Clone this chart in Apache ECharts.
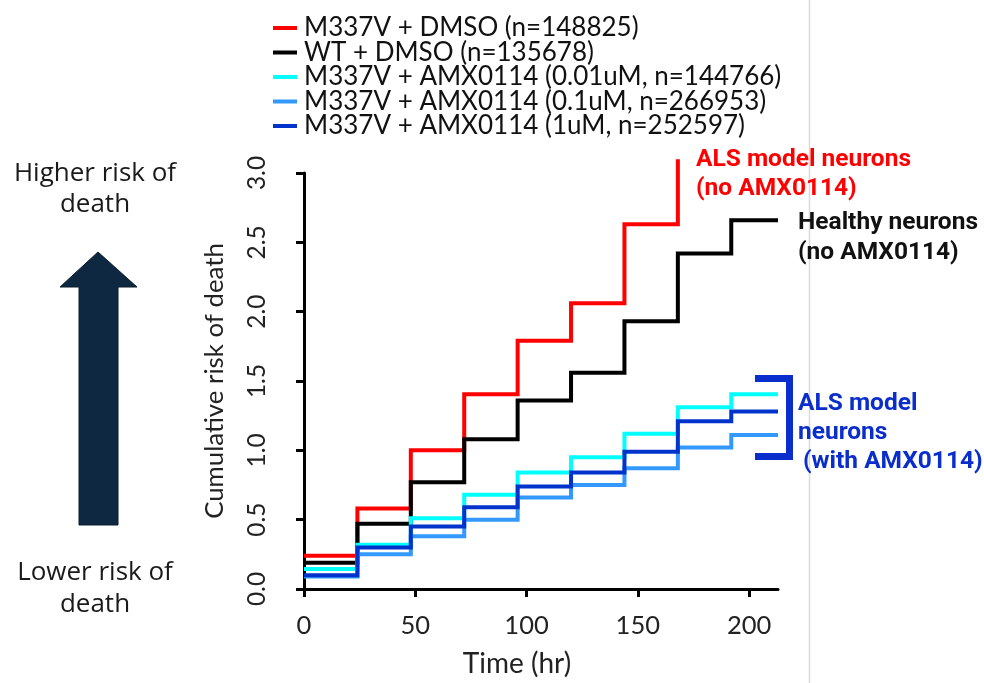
<!DOCTYPE html>
<html>
<head>
<meta charset="utf-8">
<script src="https://cdn.jsdelivr.net/npm/echarts@6/dist/echarts.min.js"></script>
<style>
html,body{margin:0;padding:0;background:#fff;}
#chart{width:984px;height:683px;}
</style>
</head>
<body>
<div id="chart"></div>
<script>
// ---- data ----
const times = [0, 24, 48, 72, 96, 120, 144, 168, 192];
const endTime = 213;
const seriesNames = [
  'M337V + DMSO (n=148825)',
  'WT + DMSO (n=135678)',
  'M337V + AMX0114 (0.01uM, n=144766)',
  'M337V + AMX0114 (0.1uM, n=266953)',
  'M337V + AMX0114 (1uM, n=252597)'
];
const redVals       = [0.24, 0.58, 1.00, 1.405, 1.79, 2.06, 2.63, 3.10];
const blackVals     = [0.19, 0.47, 0.77, 1.08, 1.36, 1.56, 1.93, 2.42, 2.66];
const cyanVals      = [0.145, 0.32, 0.51, 0.68, 0.84, 0.95, 1.12, 1.31, 1.405];
const lightBlueVals = [0.09, 0.25, 0.38, 0.50, 0.66, 0.75, 0.87, 1.02, 1.11];
const darkBlueVals  = [0.10, 0.30, 0.45, 0.59, 0.74, 0.84, 0.99, 1.21, 1.28];
const xTicks = [0, 50, 100, 150, 200];

// ---- styles ----
const colors = ['#ff0000', '#000000', '#00ffff', '#3399ff', '#0033cc'];
const allVals = [redVals, blackVals, cyanVals, lightBlueVals, darkBlueVals];
const axisFont = 'Lato';

function toPoints(vals) {
  const pts = vals.map((v, i) => [times[i], v]);
  if (vals.length === times.length) pts.push([endTime, vals[vals.length - 1]]);
  return pts;
}

const chart = echarts.init(document.getElementById('chart'), null, {renderer: 'canvas'});

const series = allVals.map((vals, i) => ({
  name: seriesNames[i],
  type: 'line',
  step: 'end',
  data: toPoints(vals),
  showSymbol: false,
  symbol: 'none',
  clip: false,
  lineStyle: {color: colors[i], width: 4, cap: 'butt', join: 'miter'},
  itemStyle: {color: colors[i]},
  z: 2 + i
}));

const annFont = 'bold 24.5px Roboto';
const sideFont = '26px "Open Sans"';

const option = {
  backgroundColor: '#ffffff',
  animation: false,
  legend: {
    orient: 'vertical',
    left: 268,
    top: 10,
    icon: 'rect',
    itemWidth: 24,
    itemHeight: 4,
    itemGap: -1.5,
    selectedMode: false,
    textStyle: {fontFamily: axisFont, fontSize: 26, lineHeight: 26, color: '#111', padding: [0, 0, 0, 2]},
    data: seriesNames
  },
  grid: {left: 304, right: 206, top: 173, bottom: 91, containLabel: false},
  xAxis: {
    type: 'value', min: 0, max: endTime, offset: 15,
    name: 'Time (hr)', nameLocation: 'middle', nameGap: 46,
    nameTextStyle: {fontFamily: axisFont, fontSize: 28, color: '#222', padding: [0, 48, 0, 0]},
    axisLine: {show: true, lineStyle: {color: '#000', width: 3}},
    axisTick: {show: true, length: 8, lineStyle: {color: '#000', width: 3}, customValues: xTicks},
    axisLabel: {fontFamily: axisFont, fontSize: 25.5, color: '#222', margin: 9, customValues: xTicks},
    splitLine: {show: false}
  },
  yAxis: {
    type: 'value', min: 0, max: 3, interval: 0.5, offset: 19,
    name: 'Cumulative risk of death', nameLocation: 'middle', nameGap: 57,
    nameTextStyle: {fontFamily: axisFont, fontSize: 25.8, color: '#222'},
    axisLine: {show: true, lineStyle: {color: '#000', width: 3}},
    axisTick: {show: true, length: 8, lineStyle: {color: '#000', width: 3}},
    axisLabel: {fontFamily: axisFont, fontSize: 24.5, color: '#222', rotate: 90, margin: 15,
      formatter: v => v.toFixed(1)},
    splitLine: {show: false}
  },
  series: series,
  graphic: [
    // page edge line
    {type: 'line', shape: {x1: 809.5, y1: 0, x2: 809.5, y2: 683}, style: {stroke: '#d9d9d9', lineWidth: 1.5}, silent: true},
    // left arrow
    {type: 'polygon', shape: {points: [[98, 252], [137, 287], [118, 287], [118, 525], [79, 525], [79, 287], [60, 287]]},
      style: {fill: '#0e2841', stroke: '#0a1c2e', lineWidth: 1}},
    {type: 'text', x: 95, y: 174, style: {text: 'Higher risk of', fill: '#1a1a1a', font: sideFont, textAlign: 'center', textVerticalAlign: 'middle'}},
    {type: 'text', x: 95, y: 205, style: {text: 'death', fill: '#1a1a1a', font: sideFont, textAlign: 'center', textVerticalAlign: 'middle'}},
    {type: 'text', x: 95, y: 573, style: {text: 'Lower risk of', fill: '#1a1a1a', font: sideFont, textAlign: 'center', textVerticalAlign: 'middle'}},
    {type: 'text', x: 95, y: 605, style: {text: 'death', fill: '#1a1a1a', font: sideFont, textAlign: 'center', textVerticalAlign: 'middle'}},
    // annotations
    {type: 'text', x: 696, y: 160, style: {text: 'ALS model neurons', fill: '#ff0000', font: annFont, textVerticalAlign: 'middle'}},
    {type: 'text', x: 696, y: 189, style: {text: '(no AMX0114)', fill: '#ff0000', font: annFont, textVerticalAlign: 'middle'}},
    {type: 'text', x: 798, y: 223, style: {text: 'Healthy neurons', fill: '#111', font: annFont, textVerticalAlign: 'middle'}},
    {type: 'text', x: 798, y: 253, style: {text: '(no AMX0114)', fill: '#111', font: annFont, textVerticalAlign: 'middle'}},
    {type: 'text', x: 798, y: 404, style: {text: 'ALS model', fill: '#0a2ecc', font: annFont, textVerticalAlign: 'middle'}},
    {type: 'text', x: 798, y: 433, style: {text: 'neurons', fill: '#0a2ecc', font: annFont, textVerticalAlign: 'middle'}},
    {type: 'text', x: 803, y: 462, style: {text: '(with AMX0114)', fill: '#0a2ecc', font: annFont, textVerticalAlign: 'middle'}},
    // bracket
    {type: 'polyline', shape: {points: [[755, 378.5], [789.5, 378.5], [789.5, 456.5], [755, 456.5]]},
      style: {stroke: '#0a2ecc', lineWidth: 7, fill: null, lineJoin: 'miter'}}
  ]
};
chart.setOption(option);
</script>
</body>
</html>
